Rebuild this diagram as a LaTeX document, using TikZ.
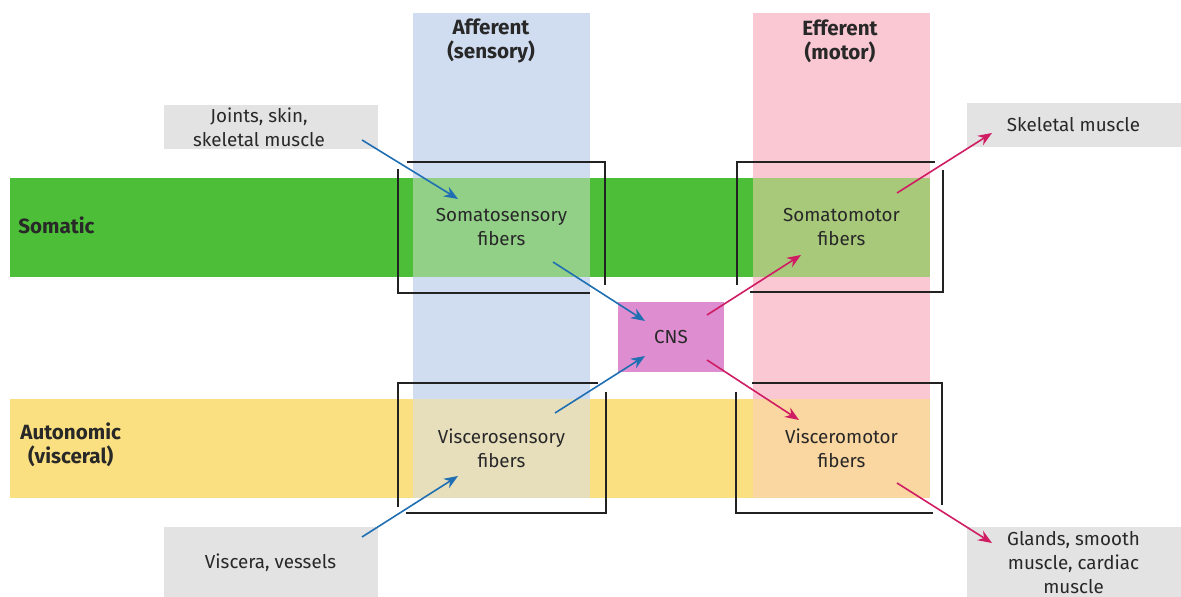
\documentclass[tikz,border=0pt]{standalone}
\usepackage{fontspec}
\setmainfont{Fira Sans}
\usetikzlibrary{arrows.meta}
\definecolor{somagreen}{RGB}{77,190,56}
\definecolor{autoyellow}{RGB}{250,224,128}
\definecolor{affcol}{RGB}{208,220,240}
\definecolor{effcol}{RGB}{250,200,210}
\definecolor{somaff}{RGB}{146,208,136}
\definecolor{someff}{RGB}{168,200,122}
\definecolor{autaff}{RGB}{231,223,188}
\definecolor{auteff}{RGB}{250,214,160}
\definecolor{cnscol}{RGB}{222,142,208}
\definecolor{boxgray}{RGB}{227,227,227}
\definecolor{framegray}{RGB}{34,34,34}
\definecolor{affblue}{RGB}{31,111,178}
\definecolor{effred}{RGB}{208,28,99}
\definecolor{txt}{RGB}{40,40,40}

\begin{document}
\begin{tikzpicture}[x=0.5pt,y=-0.5pt,
  every node/.style={font=\fontsize{9.4}{12}\selectfont,text=txt,align=center},
  head/.style={font=\fontsize{10.3}{12}\selectfont\bfseries},
  fibre/.style={minimum width=88.5pt,minimum height=49.5pt,inner sep=0pt},
  organ/.style={fill=boxgray,minimum width=107pt,inner sep=0pt},
  frame/.style={draw=framegray,line width=1.2pt},
  aff/.style={draw=affblue,line width=0.8pt,-{Stealth[length=7pt,width=5.5pt]}},
  eff/.style={draw=effred,line width=0.8pt,-{Stealth[length=7pt,width=5.5pt]}}]
\useasboundingbox (0,0) rectangle (1181,597);
%
\fill[somagreen] (10,178) rectangle (930,277);
\fill[autoyellow] (10,399) rectangle (930,498);
\fill[affcol] (413,13) rectangle (590,498);
\fill[effcol] (753,13) rectangle (930,498);
%
\node (afferent) at (491,41) [head] {Afferent\\(sensory)};
\node (efferent) at (840,41) [head] {Efferent\\(motor)};
\node (somatic) at (18,225) [head,anchor=west,inner sep=0pt] {Somatic};
\node (autonomic) at (20,445) [head,anchor=west,inner sep=0pt] {Autonomic\\(visceral)};
%
\node (somsens) at (501.5,227.5) [fibre,fill=somaff] {Somatosensory\\fibers};
\node (sommot) at (841.5,227.5) [fibre,fill=someff] {Somatomotor\\fibers};
\node (vissens) at (501.5,448.5) [fibre,fill=autaff] {Viscerosensory\\fibers};
\node (vismot) at (841.5,448.5) [fibre,fill=auteff] {Visceromotor\\fibers};
\node (cns) at (671,337) [fill=cnscol,minimum width=53pt,minimum height=35pt,inner sep=0pt] {CNS};
%
\node (joints) at (271,127) [organ,minimum height=22pt] {};
\node (jointstext) at ([xshift=-6pt]joints.center) {Joints, skin,\\skeletal muscle};
\node (viscera) at (270.5,563) [organ,minimum height=36pt] {Viscera, vessels};
\node (skeletal) at (1073.5,125) [organ,minimum height=22pt] {Skeletal muscle};
\node (glands) at (1073.5,563) [organ,minimum height=36pt] {Glands, smooth\\muscle, cardiac\\muscle};
%%
\draw[frame] (407,162) -- (605,162) -- (605,285);
\draw[frame] (398,169) -- (398,293) -- (590,293);
\draw[frame] (737,285) -- (737,162) -- (935,162);
\draw[frame] (750,292) -- (943,292) -- (943,170);
\draw[frame] (398,507) -- (398,383) -- (598,383);
\draw[frame] (406,513) -- (606,513) -- (606,392);
\draw[frame] (752,383) -- (942,383) -- (942,505);
\draw[frame] (736,392) -- (736,513) -- (933,513);
%%
\coordinate (j1) at (362,140);
\coordinate (j2) at (458,199);
\coordinate (s1) at (553,262);
\coordinate (s2) at (645,321);
\coordinate (v1) at (555,413);
\coordinate (v2) at (645,356);
\coordinate (w1) at (362,537);
\coordinate (w2) at (458,476);
\coordinate (m1) at (707,315);
\coordinate (m2) at (801,255);
\coordinate (k1) at (897,193);
\coordinate (k2) at (992,133);
\coordinate (n1) at (707,360);
\coordinate (n2) at (799,420);
\coordinate (g1) at (897,483);
\coordinate (g2) at (992,543);
%
\draw[aff] (j1) -- (j2);
\draw[aff] (s1) -- (s2);
\draw[aff] (v1) -- (v2);
\draw[aff] (w1) -- (w2);
\draw[eff] (m1) -- (m2);
\draw[eff] (k1) -- (k2);
\draw[eff] (n1) -- (n2);
\draw[eff] (g1) -- (g2);
\end{tikzpicture}
\end{document}
